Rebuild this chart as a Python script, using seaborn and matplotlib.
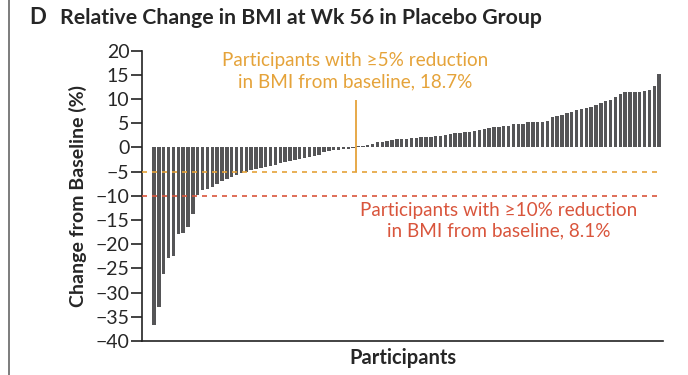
import numpy as np
import pandas as pd
import matplotlib
matplotlib.use("Agg")
import matplotlib.pyplot as plt
import seaborn as sns

# ---- data (sorted waterfall) ----
neg_changes = [-36.8, -33.0, -26.2, -22.8, -22.4, -18.0, -17.7, -16.5, -13.8, -9.9,
               -8.8, -8.6, -8.1, -7.6, -7.0, -6.5, -6.1, -5.7, -5.3, -5.0,
               -4.7, -4.5, -4.3, -4.1, -3.8, -3.6, -3.3, -3.1, -2.9, -2.6,
               -2.4, -2.2, -2.0, -1.8, -1.6, -1.0, -0.8, -0.6, -0.5, -0.4,
               -0.3, -0.2]
pos_changes = [0.2, 0.3, 0.5, 0.7, 1.0, 1.2, 1.4, 1.6, 1.7, 1.8,
               1.8, 1.9, 2.0, 2.1, 2.2, 2.2, 2.3, 2.4, 2.6, 2.8,
               3.0, 3.0, 3.1, 3.2, 3.4, 3.6,
               3.8, 3.9, 4.1, 4.3, 4.5, 4.5, 4.8, 4.9, 4.9, 5.2,
               5.2, 5.2, 5.3, 5.4, 6.2, 6.5, 6.7, 7.0, 7.3, 7.7,
               7.9, 8.1, 8.3, 8.8, 9.2, 9.6, 9.8, 10.3, 11.0, 11.4,
               11.5, 11.5, 11.5, 11.6, 11.8, 12.6, 15.1]
change_pct = neg_changes + pos_changes
participants = list(range(len(change_pct)))
y_ticks = [20, 15, 10, 5, 0, -5, -10, -15, -20, -25, -30, -35, -40]
thresholds = [-5, -10]
label_5 = "Participants with \u22655% reduction\nin BMI from baseline, 18.7%"
label_10 = "Participants with \u226510% reduction\nin BMI from baseline, 8.1%"

df = pd.DataFrame({"participant": participants, "change": change_pct})

sns.set_theme(style="white")
plt.rcParams["font.family"] = ["Lato", "DejaVu Sans"]
plt.rcParams["axes.unicode_minus"] = True

BAR = "#555557"
ORANGE = "#e5a33a"
RED = "#d9553c"

fig = plt.figure(figsize=(6.88, 3.75), dpi=100)
ax = fig.add_axes([0.2064, 0.0907, 0.9637 - 0.2064, 0.8653 - 0.0907])

sns.barplot(data=df, x="participant", y="change", color=BAR, saturation=1,
            width=0.7, ax=ax, linewidth=0)

n = len(change_pct)
ax.set_xlim(-2.47, n - 1 + 0.8)
ax.set_ylim(-40, 20)
ax.set_yticks(y_ticks)
ax.set_yticklabels([str(t).replace("-", "\u2212") for t in y_ticks])
ax.set_xticks([])

ax.hlines(thresholds[0], -2.47, n - 1 + 0.3, colors=ORANGE, linestyles=(0, (3, 3)), lw=1.2, zorder=3)
ax.hlines(thresholds[1], -2.47, n - 1 + 0.3, colors=RED, linestyles=(0, (3, 3)), lw=1.2, zorder=3)
ax.vlines(len(neg_changes) - 0.5, thresholds[0], 9.8, colors=ORANGE, lw=1.3, zorder=3)

ax.text(len(neg_changes) - 0.5, 19.6, label_5, color=ORANGE, fontsize=13.6,
        ha="center", va="top", linespacing=1.25)
ax.text(71.0, -11.3, label_10, color=RED, fontsize=13.6,
        ha="center", va="top", linespacing=1.25)

for s in ["top", "right"]:
    ax.spines[s].set_visible(False)
for s in ["left", "bottom"]:
    ax.spines[s].set_color("#222222")
    ax.spines[s].set_linewidth(1.2)

ax.tick_params(axis="y", direction="out", length=8, width=1.2, color="#222222",
               labelsize=14, pad=1, left=True)
ax.set_ylabel("Change from Baseline (%)", fontsize=14.0, fontweight="bold", labelpad=6)
ax.set_xlabel("Participants", fontsize=14.5, fontweight="bold", labelpad=5)

fig.text(0.043, 0.952, "D", fontsize=16, fontweight="bold", va="center", ha="left")
fig.text(0.087, 0.952, "Relative Change in BMI at Wk 56 in Placebo Group",
         fontsize=15.3, fontweight="bold", va="center", ha="left")

fig.add_artist(plt.Line2D([0.013, 0.013], [0, 1], color="#666666", lw=1.2,
                          transform=fig.transFigure))

fig.savefig("out.png", dpi=100)
